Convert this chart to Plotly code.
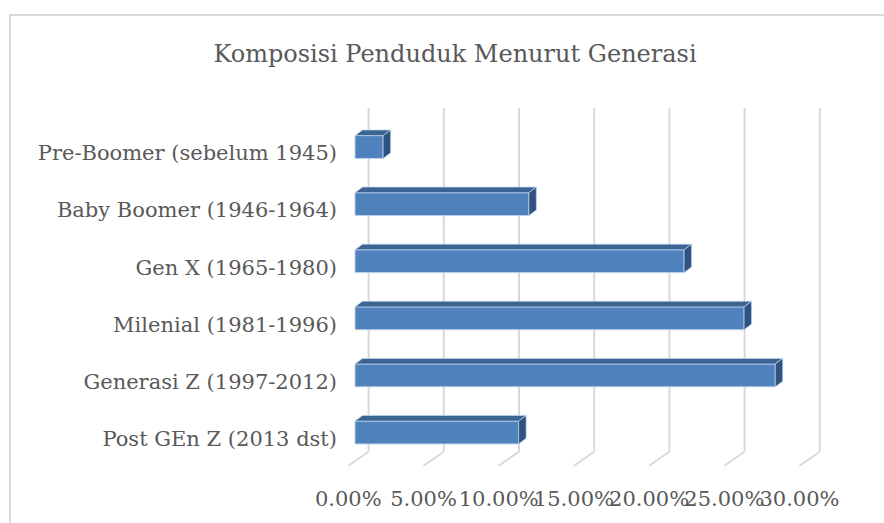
import plotly.graph_objects as go

# ---------------- data ----------------
categories = [
    "Pre-Boomer (sebelum 1945)",
    "Baby Boomer (1946-1964)",
    "Gen X (1965-1980)",
    "Milenial (1981-1996)",
    "Generasi Z (1997-2012)",
    "Post GEn Z (2013 dst)",
]
shares = [0.0187, 0.1156, 0.2188, 0.2587, 0.2794, 0.1088]
tick_values = [0.00, 0.05, 0.10, 0.15, 0.20, 0.25, 0.30]
tick_labels = ["0.00%", "5.00%", "10.00%", "15.00%", "20.00%", "25.00%", "30.00%"]
title_text = "Komposisi Penduduk Menurut Generasi"

# ---------------- styling / geometry (pixels) ----------------
W, H = 884, 523
PX_L, PX_R = 342, 860          # plot area left / right
PX_T, PX_B = 100, 470          # plot area top / bottom
UNIT_PX = 1504.0               # pixels per 1.0 (100 %)
BAR_ZERO_PX = 355.0            # 0 of the bar front plane
FRONT_ZERO_PX = 348.3          # 0 of the floor front edge (tick labels)
ROW_PX = 57.1                  # pixels between categories
BAR_ROW0_PX = 147.0            # centre of first bar front face
LABEL_ROW0_PX = 153.0          # centre of first category label
WALL_DX, WALL_DY = 20.3, 14.0  # floor depth
GRID_TOP_PX, GRID_BOT_PX = 108.0, 451.7
BAR_DX, BAR_DY = 7.5, 5.6      # bar depth
BAR_W = 0.4

FRONT = "#4F81BD"
TOP = "#3C6493"
SIDE = "#2F5381"
EDGE = "rgba(190,210,235,0.9)"
GRID = "#D9D9D9"
TEXT = "#595959"
FONT = "DejaVu Serif"

positions = list(range(len(categories)))

fig = go.Figure()

# front faces of the bars
fig.add_trace(go.Bar(
    x=shares, y=positions, orientation="h", width=BAR_W,
    marker=dict(color=FRONT, line=dict(color=EDGE, width=1)),
    xaxis="x", yaxis="y", hoverinfo="x+text", text=categories,
    textposition="none", showlegend=False,
))

# invisible trace carrying the label axes (front floor / category labels)
fig.add_trace(go.Scatter(
    x=shares, y=positions, mode="markers", marker=dict(opacity=0),
    xaxis="x2", yaxis="y2", hoverinfo="skip", showlegend=False,
))

shapes = []
ddx = BAR_DX / UNIT_PX
ddy = BAR_DY / ROW_PX

# back wall gridlines + floor diagonals
for v in tick_values:
    shapes.append(dict(
        type="line", layer="below", xref="x2", xsizemode="pixel", xanchor=v,
        x0=WALL_DX, x1=WALL_DX, yref="paper",
        y0=1 - GRID_BOT_PX / H, y1=1 - GRID_TOP_PX / H,
        line=dict(color=GRID, width=2),
    ))
    shapes.append(dict(
        type="line", layer="below", xref="x2", xsizemode="pixel", xanchor=v,
        x0=WALL_DX, x1=0, yref="paper", ysizemode="pixel",
        yanchor=1 - GRID_BOT_PX / H, y0=0, y1=-WALL_DY,
        line=dict(color=GRID, width=2),
    ))

# top and side faces of the 3D bars
for p, v in zip(positions, shares):
    yt = p - BAR_W / 2
    yb = p + BAR_W / 2
    top_path = (f"M 0,{yt} L {v},{yt} L {v + ddx},{yt - ddy} "
                f"L {ddx},{yt - ddy} Z")
    side_path = (f"M {v},{yt} L {v + ddx},{yt - ddy} L {v + ddx},{yb - ddy} "
                 f"L {v},{yb} Z")
    shapes.append(dict(type="path", path=top_path, xref="x", yref="y",
                       fillcolor=TOP, line=dict(color=EDGE, width=0.8),
                       layer="above"))
    shapes.append(dict(type="path", path=side_path, xref="x", yref="y",
                       fillcolor=SIDE, line=dict(color=EDGE, width=0.8),
                       layer="above"))

# chart border
shapes.append(dict(type="rect", xref="paper", yref="paper",
                   x0=10 / W, x1=1.02, y0=-0.02, y1=1 - 15 / H,
                   line=dict(color=GRID, width=2), layer="below"))

fig.update_layout(
    width=W, height=H, autosize=False,
    margin=dict(l=0, r=0, t=0, b=0, autoexpand=False),
    paper_bgcolor="white", plot_bgcolor="rgba(0,0,0,0)",
    showlegend=False,
    title=dict(text=title_text, x=455 / W, y=1 - 54 / H,
               xanchor="center", yanchor="middle",
               font=dict(family=FONT, size=24, color=TEXT)),
    xaxis=dict(domain=[PX_L / W, PX_R / W], automargin=False,
               range=[(PX_L - BAR_ZERO_PX) / UNIT_PX, (PX_R - BAR_ZERO_PX) / UNIT_PX],
               showgrid=False, zeroline=False, showticklabels=False,
               showline=False, fixedrange=True),
    yaxis=dict(domain=[1 - PX_B / H, 1 - PX_T / H], automargin=False,
               range=[(PX_B - BAR_ROW0_PX) / ROW_PX, (PX_T - BAR_ROW0_PX) / ROW_PX],
               showgrid=False, zeroline=False, showticklabels=False,
               showline=False, fixedrange=True),
    xaxis2=dict(overlaying="x", anchor="free", position=1 - 484 / H,
                automargin=False,
                range=[(PX_L - FRONT_ZERO_PX) / UNIT_PX, (PX_R - FRONT_ZERO_PX) / UNIT_PX],
                tickmode="array", tickvals=tick_values, ticktext=tick_labels,
                tickangle=0,
                showgrid=False, zeroline=False, showline=False, ticks="",
                tickfont=dict(family=FONT, size=21, color=TEXT), fixedrange=True),
    yaxis2=dict(overlaying="y", anchor="free", position=337 / W, side="left",
                automargin=False,
                range=[(PX_B - LABEL_ROW0_PX) / ROW_PX, (PX_T - LABEL_ROW0_PX) / ROW_PX],
                tickmode="array", tickvals=positions, ticktext=categories,
                showgrid=False, zeroline=False, showline=False, ticks="",
                tickfont=dict(family=FONT, size=21, color=TEXT), fixedrange=True),
    shapes=shapes,
)

fig.write_html(
    "out.html",
    config={"displayModeBar": False},
    post_script="document.body.style.margin='0';document.body.style.overflow='hidden';",
)
